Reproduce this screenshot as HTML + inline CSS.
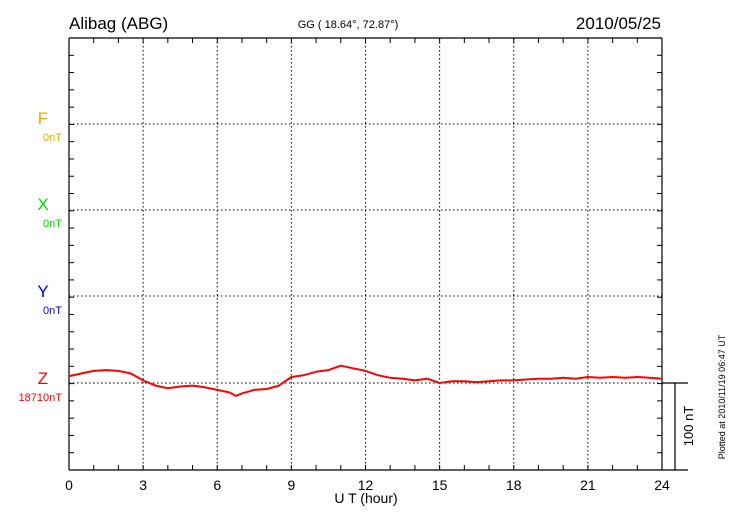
<!DOCTYPE html>
<html><head><meta charset="utf-8"><style>
body{margin:0;background:#fff;}
svg{display:block;font-family:"Liberation Sans",sans-serif;}
</style></head><body>
<svg id="chart" width="730" height="520" viewBox="0 0 730 520">
<text x="69" y="29" font-size="17">Alibag (ABG)</text>
<text x="348" y="28" font-size="11" text-anchor="middle">GG ( 18.64°,  72.87°)</text>
<text x="661" y="29" font-size="17" text-anchor="end">2010/05/25</text>
<g id="grid"></g>
<g id="axes"></g>
<g>
<text x="43" y="124" font-size="17" fill="#f0a800" text-anchor="middle">F</text>
<text x="62" y="141" font-size="11" fill="#f0a800" text-anchor="end">0nT</text>
<text x="43" y="210" font-size="17" fill="#00dd00" text-anchor="middle">X</text>
<text x="62" y="227" font-size="11" fill="#00dd00" text-anchor="end">0nT</text>
<text x="43" y="297" font-size="17" fill="#0000ee" text-anchor="middle">Y</text>
<text x="62" y="314" font-size="11" fill="#0000ee" text-anchor="end">0nT</text>
<text x="43" y="384" font-size="17" fill="#ff0000" text-anchor="middle">Z</text>
<text x="62" y="401" font-size="11" fill="#ff0000" text-anchor="end">18710nT</text>
</g>
<text x="366" y="503" font-size="14" text-anchor="middle">U T (hour)</text>
<text transform="translate(693,426) rotate(-90)" font-size="13" text-anchor="middle">100 nT</text>
<text transform="translate(725,397) rotate(-90)" font-size="9" text-anchor="middle">Plotted at 2010/11/19 06:47 UT</text>
<path id="zline" fill="none" stroke="#ff0000" stroke-width="2" stroke-linejoin="round"></path>
</svg>
<script>
const hours = [0,0.5,1,1.5,2,2.5,3,3.5,4,4.5,5,5.5,6,6.5,6.75,7,7.5,8,8.5,9,9.5,10,10.5,11,11.5,12,12.5,13,13.5,14,14.5,15,15.5,16,16.5,17,17.5,18,18.5,19,19.5,20,20.5,21,21.5,22,22.5,23,23.5,24];
const zValues = [8,11,14,15,14,11,3,-3,-6,-4,-3,-5,-8,-11,-15,-12,-8,-7,-3,7,9,13,15,20,17,14,9,6,5,3,5,0,2,2,1,2,3,3,4,5,5,6,5,7,6,7,6,7,6,5];
const xTicks = [0,3,6,9,12,15,18,21,24];
const zBaseline = 18710;
const L=69,R=662,T=38,B=470,ZY=383,PXNT=0.863;
const sx=h=>L+(R-L)*h/24;
const sz=v=>ZY-v*PXNT;
const NS='http://www.w3.org/2000/svg';
function mk(parent,tag,a){const e=document.createElementNS(NS,tag);for(const k in a)e.setAttribute(k,a[k]);parent.appendChild(e);return e;}
const grid=document.getElementById('grid'),axes=document.getElementById('axes');
[124,210,296,383].forEach(y=>{
  const l=mk(grid,'line',{x1:L,x2:R,y1:y,y2:y,stroke:'#000','stroke-width':1,'stroke-dasharray':'1.5,2.5'});
  
  
});
xTicks.slice(1,-1).forEach(h=>{
  const l=mk(grid,'line',{x1:sx(h),x2:sx(h),y1:T,y2:B,stroke:'#000','stroke-width':1,'stroke-dasharray':'1.5,2.5'});
  
  
});
const ax=[[L,T,L,B],[L,T,R,T],[L,B,688,B],[R,T,R,B],[R,383,688,383],[675,383,675,B]];
ax.forEach(a=>{const l=mk(axes,'line',{x1:a[0],y1:a[1],x2:a[2],y2:a[3],stroke:'#000','stroke-width':1.2});
  
  });
for(let i=1;i<25;i++){const y=T+i*(B-T)/25;
  const t=mk(axes,'line',{x1:L,x2:L+5,y1:y,y2:y,stroke:'#000'});
  
  
  const t2=mk(axes,'line',{x1:R-5,x2:R,y1:y,y2:y,stroke:'#000'});
  
  }
for(let h=1;h<24;h++){
  const t=mk(axes,'line',{x1:sx(h),x2:sx(h),y1:B,y2:B-5,stroke:'#000'});
  
  
  const t2=mk(axes,'line',{x1:sx(h),x2:sx(h),y1:T,y2:T+5,stroke:'#000'});
  
  }
xTicks.forEach(h=>{const t=mk(axes,'text',{x:sx(h),y:490,'font-size':14,'text-anchor':'middle'});t.textContent=h;
  
  });
document.getElementById('zline').setAttribute('d',hours.map((h,i)=>(i?'L':'M')+sx(h).toFixed(1)+','+sz(zValues[i]).toFixed(1)).join(''));
</script>
</body></html>
